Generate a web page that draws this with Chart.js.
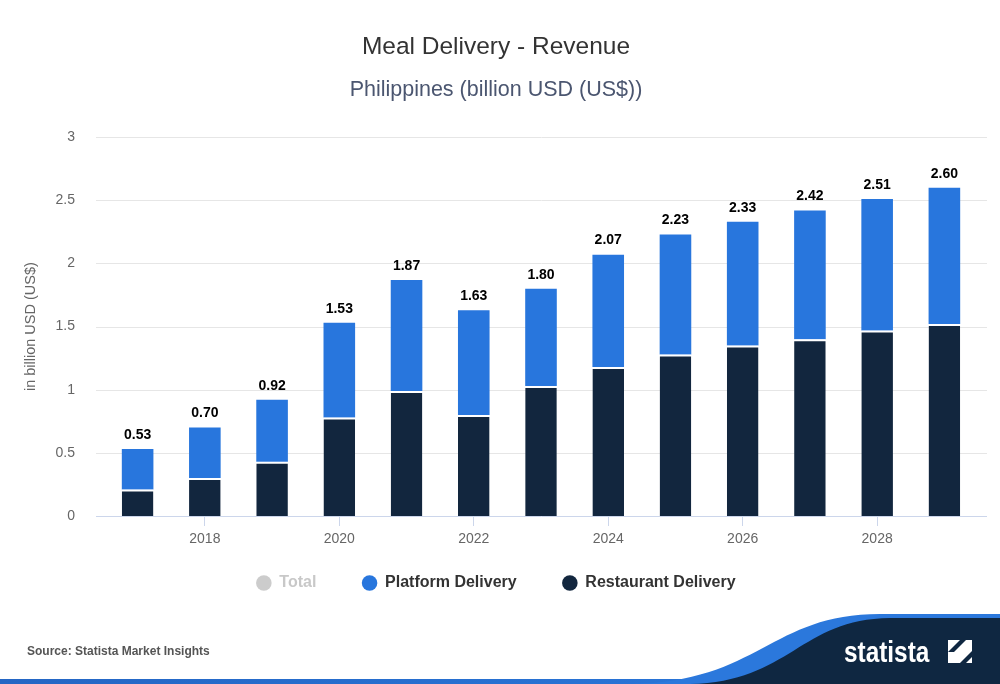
<!DOCTYPE html>
<html>
<head>
<meta charset="utf-8">
<script src="https://cdn.jsdelivr.net/npm/chart.js@4.4.1/dist/chart.umd.min.js"></script>
<style>
  html, body { margin: 0; padding: 0; background: #fff; }
  #wrap { width: 1000px; height: 684px; position: relative; }
</style>
</head>
<body>
<div id="wrap"><canvas id="chart" width="1000" height="684"></canvas></div>
<script>
const years = ['2017', '2018', '2019', '2020', '2021', '2022', '2023', '2024', '2025', '2026', '2027', '2028', '2029'];
const totalRevenue = [0.53, 0.70, 0.92, 1.53, 1.87, 1.63, 1.80, 2.07, 2.23, 2.33, 2.42, 2.51, 2.60];
const platformDelivery = [0.32, 0.40, 0.49, 0.75, 0.88, 0.83, 0.77, 0.89, 0.95, 0.98, 1.02, 1.04, 1.08];
const restaurantDelivery = [0.21, 0.30, 0.43, 0.78, 0.99, 0.80, 1.03, 1.18, 1.28, 1.35, 1.40, 1.47, 1.52];
const yTicks = [0, 0.5, 1, 1.5, 2, 2.5, 3];

const FONT = "'Liberation Sans', Arial, sans-serif";

// grid lines run a bit wider than the bars' category band
const gridPlugin = {
  id: 'grid',
  beforeDatasetsDraw(chart) {
    const { ctx, scales: { y } } = chart;
    ctx.save();
    ctx.lineWidth = 1;
    yTicks.forEach(v => {
      const py = Math.round(y.getPixelForValue(v)) + 0.5;
      ctx.strokeStyle = v === 0 ? '#ccd6eb' : '#e6e6e6';
      ctx.beginPath();
      ctx.moveTo(96, py);
      ctx.lineTo(987, py);
      ctx.stroke();
    });
    ctx.restore();
  }
};

const totalsPlugin = {
  id: 'totals',
  afterDatasetsDraw(chart) {
    const { ctx } = chart;
    const meta = chart.getDatasetMeta(1);
    ctx.save();
    ctx.font = 'bold 14px ' + FONT;
    ctx.fillStyle = '#000';
    ctx.textAlign = 'center';
    ctx.textBaseline = 'bottom';
    meta.data.forEach((bar, i) => {
      ctx.fillText(totalRevenue[i].toFixed(2), bar.x, bar.y - 7);
    });
    ctx.restore();
  }
};

const footerPlugin = {
  id: 'footer',
  afterDraw(chart) {
    const { ctx } = chart;
    ctx.save();
    ctx.font = 'bold 12px ' + FONT;
    ctx.fillStyle = '#555';
    ctx.textBaseline = 'middle';
    ctx.fillText('Source: Statista Market Insights', 27, 652);

    const grad = ctx.createLinearGradient(0, 0, 1000, 0);
    grad.addColorStop(0, '#2466c4');
    grad.addColorStop(1, '#2b7ade');
    ctx.fillStyle = grad;
    ctx.fillRect(0, 679, 1000, 5);

    ctx.fillStyle = '#2b78dc';
    ctx.beginPath();
    ctx.moveTo(630, 684);
    ctx.bezierCurveTo(760, 682, 770, 614, 880, 614);
    ctx.lineTo(1000, 614);
    ctx.lineTo(1000, 684);
    ctx.closePath();
    ctx.fill();

    ctx.fillStyle = '#0f2741';
    ctx.beginPath();
    ctx.moveTo(690, 684);
    ctx.bezierCurveTo(790, 682, 800, 619, 890, 618);
    ctx.lineTo(1000, 618);
    ctx.lineTo(1000, 684);
    ctx.closePath();
    ctx.fill();

    ctx.fillStyle = '#fff';
    ctx.font = 'bold 29px ' + FONT;
    ctx.textBaseline = 'alphabetic';
    ctx.save();
    ctx.translate(844, 662);
    ctx.scale(0.84, 1);
    ctx.fillText('statista', 0, 0);
    ctx.restore();

    ctx.fillRect(948, 640, 24, 23);
    ctx.fillStyle = '#0f2741';
    ctx.beginPath();
    ctx.moveTo(948, 652);
    ctx.lineTo(960, 640);
    ctx.lineTo(966, 640);
    ctx.lineTo(954, 652);
    ctx.closePath();
    ctx.fill();
    ctx.beginPath();
    ctx.moveTo(972, 651);
    ctx.lineTo(960, 663);
    ctx.lineTo(966, 663);
    ctx.lineTo(972, 657);
    ctx.closePath();
    ctx.fill();
    ctx.restore();
  }
};

new Chart(document.getElementById('chart'), {
  type: 'bar',
  data: {
    labels: years,
    datasets: [
      {
        label: 'Restaurant Delivery',
        data: restaurantDelivery,
        backgroundColor: '#12263e',
        borderColor: '#ffffff',
        borderWidth: { top: 2, right: 0, bottom: 0, left: 0 },
        borderSkipped: false
      },
      {
        label: 'Platform Delivery',
        data: platformDelivery,
        backgroundColor: '#2876dd'
      },
      {
        label: 'Total',
        data: totalRevenue,
        backgroundColor: '#cccccc',
        hidden: true
      }
    ]
  },
  options: {
    responsive: false,
    animation: false,
    barPercentage: 0.47,
    categoryPercentage: 1,
    layout: { padding: { top: 0, left: 14, right: 22, bottom: 83 } },
    plugins: {
      title: {
        display: true,
        text: 'Meal Delivery - Revenue',
        color: '#333',
        font: { family: FONT, size: 24.5, weight: 'normal' },
        padding: { top: 33, bottom: 15 }
      },
      subtitle: {
        display: true,
        text: 'Philippines (billion USD (US$))',
        color: '#4b5670',
        font: { family: FONT, size: 21.5, weight: 'normal' },
        padding: { top: 0, bottom: 34 }
      },
      legend: {
        position: 'bottom',
        reverse: true,
        onClick: null,
        labels: {
          usePointStyle: true,
          pointStyle: 'circle',
          boxWidth: 15,
          boxHeight: 11,
          padding: 19,
          color: '#333',
          font: { family: FONT, size: 16, weight: 'bold' },
          generateLabels(chart) {
            const items = Chart.defaults.plugins.legend.labels.generateLabels(chart);
            return items.map(it => {
              const isTotal = it.text === 'Total';
              // trailing spaces widen the gap between legend entries
              const gap = it.text === 'Restaurant Delivery' ? '' : '      ';
              return Object.assign(it, {
                text: it.text + gap,
                hidden: false,
                lineWidth: 0,
                strokeStyle: 'transparent',
                fontColor: isTotal ? '#c8c8c8' : '#333',
                fillStyle: isTotal ? '#cccccc' : it.fillStyle
              });
            });
          }
        }
      },
      tooltip: { enabled: false }
    },
    scales: {
      x: {
        stacked: true,
        border: { display: false },
        grid: {
          offset: false,
          drawOnChartArea: false,
          drawTicks: true,
          tickLength: 10,
          tickColor: ctx => (ctx.index % 2 === 1 ? '#ccd6eb' : 'rgba(0,0,0,0)')
        },
        ticks: {
          autoSkip: false,
          maxRotation: 0,
          padding: 5,
          color: '#666',
          font: { family: FONT, size: 14 },
          callback: (val, i) => (i % 2 === 1 ? years[i] : '')
        },
        afterFit: scale => { scale.height = 40; }
      },
      y: {
        stacked: true,
        min: 0,
        max: 3,
        border: { display: false },
        grid: { display: false, drawTicks: false },
        ticks: {
          stepSize: 0.5,
          padding: 29,
          color: '#666',
          font: { family: FONT, size: 14 },
          callback: v => String(v)
        },
        title: {
          display: true,
          text: 'in billion USD (US$)',
          color: '#666',
          font: { family: FONT, size: 14.5 },
          padding: { top: 8, bottom: 0 }
        },
        afterFit: scale => { scale.width = 90; }
      }
    }
  },
  plugins: [gridPlugin, totalsPlugin, footerPlugin]
});
</script>
</body>
</html>
